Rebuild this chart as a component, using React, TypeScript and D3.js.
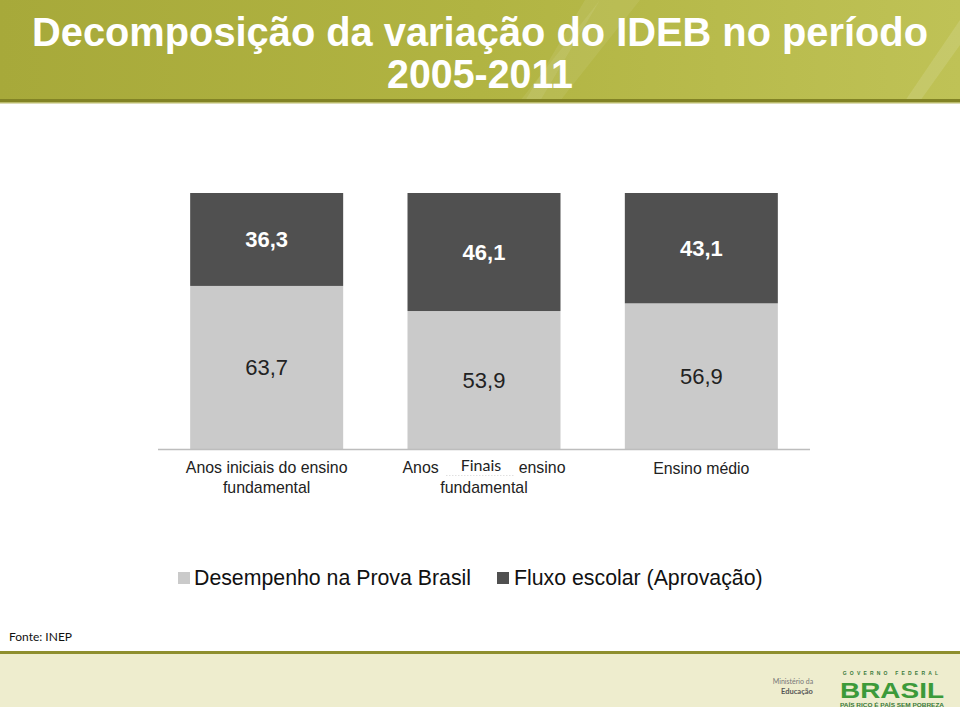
import React from "react";
import * as d3 from "d3";

const categories = ["Anos iniciais do ensino fundamental", "Anos finais do ensino fundamental", "Ensino médio"];
const desempenho = [63.7, 53.9, 56.9];
const fluxo = [36.3, 46.1, 43.1];
const seriesNames = ["Desempenho na Prova Brasil", "Fluxo escolar (Aprovação)"];
const titleLines = ["Decomposição da variação do IDEB no período", "2005-2011"];
const source = "Fonte: INEP";

const W = 960, H = 707;
const ARIAL = "'Liberation Sans', Arial, sans-serif";
const CAL = "Lato, 'Open Sans', sans-serif";
const DARK = "#505050", LIGHT = "#CACACA";

const fmt = (v: number) => d3.format(".1f")(v).replace(".", ",");

export default function App() {
  const x = d3.scaleBand<string>().domain(categories).range([158, 810]).paddingInner(0.296).paddingOuter(0.148);
  const y = d3.scaleLinear().domain([0, 100]).range([449, 193]);
  const bw = x.bandwidth();

  return (
    <svg width={W} height={H} style={{ position: "absolute", left: 0, top: 0, background: "#fff" }}>
      <defs>
        <linearGradient id="hdr" x1="0" y1="0" x2="1" y2="0">
          <stop offset="0" stopColor="#A7A93A" />
          <stop offset="0.5" stopColor="#B1B442" />
          <stop offset="1" stopColor="#BFC256" />
        </linearGradient>
      </defs>
      {/* header */}
      <rect x={0} y={0} width={W} height={101} fill="url(#hdr)" />
      <path d="M520,101 L600,0 L640,0 L560,101 Z" fill="#ffffff" opacity={0.07} />
      <path d="M585,0 L600,0 L540,101 L525,101 Z" fill="#ffffff" opacity={0.08} />
      <path d="M905,101 L960,20 L960,45 L920,101 Z" fill="#ffffff" opacity={0.12} />
      <rect x={0} y={99} width={W} height={3} fill="#828325" />
      <rect x={0} y={102} width={W} height={1.5} fill="#B9BA6A" />
      <text x={480} y={46} textAnchor="middle" fill="#fff" fontFamily={ARIAL} fontWeight="bold" fontSize={40}
        textLength={896} lengthAdjust="spacingAndGlyphs">{titleLines[0]}</text>
      <text x={480} y={88} textAnchor="middle" fill="#fff" fontFamily={ARIAL} fontWeight="bold" fontSize={40}
        textLength={186} lengthAdjust="spacingAndGlyphs">{titleLines[1]}</text>

      {/* bars */}
      {categories.map((c, i) => {
        const x0 = x(c)!;
        const yL = y(desempenho[i]);
        const yT = y(desempenho[i] + fluxo[i]);
        return (
          <g key={c}>
            <rect x={x0} y={yL} width={bw} height={y(0) - yL} fill={LIGHT} />
            <rect x={x0} y={yT} width={bw} height={yL - yT} fill={DARK} />
            <text x={x0 + bw / 2} y={(yL + y(0)) / 2 + 8} textAnchor="middle" fontFamily={ARIAL} fontSize={22} fill="#222">{fmt(desempenho[i])}</text>
            <text x={x0 + bw / 2} y={(yT + yL) / 2 + 8} textAnchor="middle" fontFamily={ARIAL} fontSize={22} fontWeight="bold" fill="#fff">{fmt(fluxo[i])}</text>
          </g>
        );
      })}
      <line x1={158} x2={810} y1={449.5} y2={449.5} stroke="#BDBDBD" strokeWidth={1.5} />

      {/* category labels */}
      {(() => {
        const c0 = x(categories[0])! + bw / 2;
        const c1 = x(categories[1])! + bw / 2;
        const c2 = x(categories[2])! + bw / 2;
        return (
          <g fontFamily={ARIAL} fontSize={15.9} fill="#222">
            <text x={c0} y={473} textAnchor="middle">Anos iniciais do ensino</text>
            <text x={c0} y={493} textAnchor="middle">fundamental</text>
            <text x={c1 - 81.5} y={473} textAnchor="start">Anos</text>
            <text x={c1 + 81.5} y={473} textAnchor="end">ensino</text>
            <line x1={c1 - 38} x2={c1 + 30} y1={475.5} y2={475.5} stroke="#d8d8d8" strokeWidth={0.8} strokeDasharray="1.5,1.5" />
            <text x={c1 - 3} y={471} textAnchor="middle" fontFamily={CAL} fontSize={16}>Finais</text>
            <text x={c1} y={493} textAnchor="middle">fundamental</text>
            <text x={c2} y={474} textAnchor="middle">Ensino médio</text>
          </g>
        );
      })()}

      {/* legend */}
      <rect x={178} y={572} width={12} height={12} fill={LIGHT} />
      <text x={194} y={585} fontFamily={ARIAL} fontSize={21.3} fill="#111">{seriesNames[0]}</text>
      <rect x={497} y={572} width={12} height={12} fill={DARK} />
      <text x={514} y={585} fontFamily={ARIAL} fontSize={21.3} fill="#111">{seriesNames[1]}</text>

      {/* source */}
      <text x={9} y={641} fontFamily={CAL} fontSize={12} fill="#111">{source}</text>

      {/* footer */}
      <rect x={0} y={651} width={W} height={3} fill="#8E8F2E" />
      <rect x={0} y={654} width={W} height={H - 654} fill="#EEEDCE" />
      <text x={793} y={684} textAnchor="middle" fontFamily={CAL} fontSize={7} fill="#777">Ministério da</text>
      <text x={797} y={694} textAnchor="middle" fontFamily={CAL} fontSize={7.5} fontWeight="bold" fill="#555">Educação</text>
      <text x={892} y={674.5} textAnchor="middle" fontFamily={ARIAL} fontSize={5} fontWeight="bold" fill="#3a7a3a" letterSpacing={3.2}>GOVERNO FEDERAL</text>
      <text x={892} y={698} textAnchor="middle" fontFamily={ARIAL} fontSize={22} fontWeight="bold" fill="#3C9A3A"
        textLength={104} lengthAdjust="spacingAndGlyphs">BRASIL</text>
      <text x={892} y={706.5} textAnchor="middle" fontFamily={ARIAL} fontSize={4.5} fontWeight="bold" fill="#3a7a3a"
        textLength={104} lengthAdjust="spacingAndGlyphs">PAÍS RICO É PAÍS SEM POBREZA</text>
    </svg>
  );
}
